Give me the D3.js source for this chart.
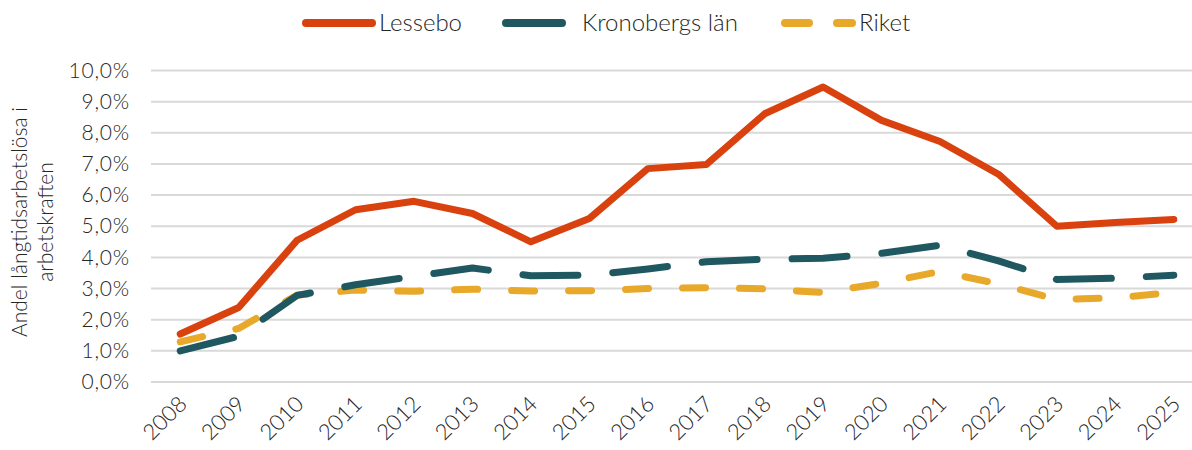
<!DOCTYPE html>
<html>
<head>
<meta charset="utf-8">
<script src="https://cdn.jsdelivr.net/npm/d3@7"></script>
<style>
  body { margin: 0; background: #fff; }
  svg text { font-family: Lato, "Open Sans", sans-serif; font-weight: 300; fill: #262626; }
</style>
</head>
<body>
<div id="chart"></div>
<script>
// data (percent)
var years = ["2008", "2009", "2010", "2011", "2012", "2013", "2014", "2015", "2016",
  "2017", "2018", "2019", "2020", "2021", "2022", "2023", "2024", "2025"];
var lessebo = [1.54, 2.39, 4.55, 5.53, 5.80, 5.41, 4.50, 5.25, 6.85, 6.98, 8.61, 9.47, 8.40, 7.72, 6.67, 5.00, 5.12, 5.22];
var kronoberg = [1.00, 1.47, 2.78, 3.12, 3.39, 3.66, 3.41, 3.43, 3.63, 3.86, 3.94, 3.97, 4.13, 4.39, 3.89, 3.29, 3.33, 3.43];
var riket = [1.29, 1.72, 2.79, 2.95, 2.91, 2.98, 2.92, 2.93, 3.00, 3.03, 2.99, 2.87, 3.17, 3.55, 3.15, 2.65, 2.70, 2.88];
var yTicks = [0, 1, 2, 3, 4, 5, 6, 7, 8, 9, 10];
var seriesNames = ["Lessebo", "Kronobergs län", "Riket"];
var yTitle = ["Andel långtidsarbetslösa i", "arbetskraften"];

var width = 1192, height = 450;

var series = [
  { name: seriesNames[0], values: lessebo, color: "#D9410E", dash: null },
  { name: seriesNames[1], values: kronoberg, color: "#1F5860", dash: "55,35" },
  { name: seriesNames[2], values: riket, color: "#E8A82A", dash: "23,34" }
];

var svg = d3.select("#chart")
  .append("svg")
  .attr("width", width)
  .attr("height", height);

var x = d3.scalePoint().domain(years).range([151, 1203]).padding(0.5);
var y = d3.scaleLinear().domain([0, 10]).range([382, 70.5]);

var fmt = function (v) { return d3.format(".1f")(v).replace(".", ",") + "%"; };

// gridlines
svg.append("g")
  .selectAll("line")
  .data(yTicks)
  .enter()
  .append("line")
  .attr("x1", 151)
  .attr("x2", 1203)
  .attr("y1", function (d) { return y(d); })
  .attr("y2", function (d) { return y(d); })
  .attr("stroke", "#D9D9D9")
  .attr("stroke-width", 2);

// y axis labels
var yAxis = svg.append("g")
  .attr("transform", "translate(141,0)")
  .call(d3.axisLeft(y).tickValues(yTicks).tickFormat(fmt).tickSize(0).tickPadding(11));
yAxis.select(".domain").remove();
yAxis.selectAll("text")
  .style("font-size", "21px")
  .style("letter-spacing", "0.8px")
  .style("font-family", "Lato, 'Open Sans', sans-serif")
  .style("font-weight", 300)
  .attr("fill", "#262626");

// x axis labels
var xAxis = svg.append("g")
  .attr("transform", "translate(0,390)")
  .call(d3.axisBottom(x).tickSize(0).tickPadding(0));
xAxis.select(".domain").remove();
xAxis.selectAll("text")
  .style("font-size", "22px")
  .style("font-family", "Lato, 'Open Sans', sans-serif")
  .style("font-weight", 300)
  .attr("fill", "#262626")
  .attr("text-anchor", "end")
  .attr("dy", "0.35em")
  .attr("transform", "translate(2,10) rotate(-45)");

// y axis title
var title = svg.append("text")
  .attr("transform", "translate(0,222) rotate(-90)")
  .attr("text-anchor", "middle")
  .style("font-size", "21px");
title.selectAll("tspan")
  .data(yTitle)
  .enter()
  .append("tspan")
  .attr("x", 0)
  .attr("y", function (d, i) { return 27 + i * 26; })
  .text(function (d) { return d; });

// lines
var valueline = d3.line()
  .x(function (d, i) { return x(years[i]); })
  .y(function (d) { return y(d); });

// draw back to front: Riket, Kronoberg, Lessebo
series.slice().reverse().forEach(function (s) {
  svg.append("path")
    .datum(s.values)
    .attr("d", valueline)
    .attr("fill", "none")
    .attr("stroke", s.color)
    .attr("stroke-width", 7)
    .attr("stroke-linecap", "round")
    .attr("stroke-linejoin", "round")
    .attr("stroke-dasharray", s.dash);
});

// legend
var legendItems = [
  { s: series[0], x1: 306, x2: 372, tx: 379 },
  { s: series[1], x1: 506, x2: 562, tx: 582 },
  { s: series[2], x1: 785, x2: 852, tx: 859 }
];
var legend = svg.append("g");
legendItems.forEach(function (l) {
  legend.append("line")
    .attr("x1", l.x1)
    .attr("x2", l.x2)
    .attr("y1", 23)
    .attr("y2", 23)
    .attr("stroke", l.s.color)
    .attr("stroke-width", 8)
    .attr("stroke-linecap", "round")
    .attr("stroke-dasharray", l.s.name == "Riket" ? "24,28" : null);
  legend.append("text")
    .attr("x", l.tx)
    .attr("y", 23)
    .attr("dy", "0.35em")
    .style("font-size", "24px")
    .text(l.s.name);
});
</script>
</body>
</html>
